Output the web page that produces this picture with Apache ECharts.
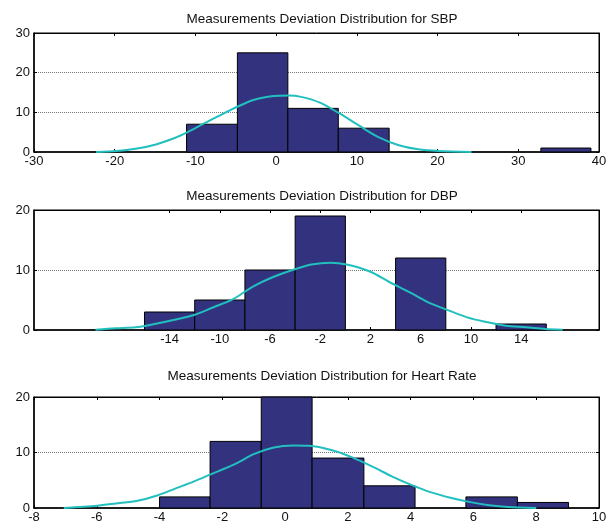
<!DOCTYPE html>
<html>
<head>
<meta charset="utf-8">
<script src="https://cdn.jsdelivr.net/npm/echarts@6/dist/echarts.min.js"></script>
<style>
  html, body { margin: 0; padding: 0; background: #fff; }
  #chart { width: 613px; height: 526px; }
</style>
</head>
<body>
<div id="chart"></div>
<script>
// SBP histogram: bin edges and counts, plus fitted curve points
var sbpEdges = [-11.1, -4.8, 1.45, 7.7, 14.0, 20.2, 26.5, 32.8, 39.0];
var sbpCounts = [7, 25, 11, 6, 0, 0, 0, 1];
var sbpFitX = [-22.3, -19.8, -17.4, -14.9, -12.5, -11.1, -9.1, -7.1, -4.8, -2.8, -0.3, 1.5, 3.1, 5.5, 7.7, 10.4, 12.8, 15.2, 17.6, 20.1, 24.2];
var sbpFitY = [0, 0.25, 0.8, 1.9, 3.6, 4.9, 7.0, 9.1, 11.4, 13.1, 14.1, 14.25, 13.9, 12.4, 9.9, 6.5, 3.6, 1.7, 0.67, 0.25, 0];
var sbpTicks = [-30, -20, -10, 0, 10, 20, 30, 40];

// DBP
var dbpEdges = [-16, -12, -8, -4, 0, 4, 8, 12, 16];
var dbpCounts = [3, 5, 10, 19, 0, 12, 0, 1];
var dbpFitX = [-19.9, -18.3, -16.7, -15.2, -13.6, -12.05, -10.5, -8.9, -7.4, -5.8, -3.9, -2.7, -1.2, 0.1, 2.0, 3.5, 5.1, 6.6, 8.05, 9.7, 11.3, 12.8, 14.4, 15.9, 17.3];
var dbpFitY = [0.05, 0.3, 0.45, 1.0, 1.7, 2.5, 3.8, 5.2, 7.2, 8.8, 10.2, 10.9, 11.2, 10.9, 9.7, 8.0, 6.3, 4.6, 3.4, 2.1, 1.3, 0.7, 0.45, 0.17, 0.05];
var dbpTicks = [-14, -10, -6, -2, 2, 6, 10, 14];

// Heart rate
var hrEdges = [-4.0, -2.39, -0.76, 0.86, 2.51, 4.14, 5.76, 7.4, 9.03];
var hrCounts = [2, 12, 20, 9, 4, 0, 2, 1];
var hrFitX = [-7.05, -6.6, -6.0, -5.4, -4.7, -4.1, -3.5, -2.9, -2.4, -1.6, -1.0, -0.36, 0.26, 0.76, 1.5, 2.1, 2.8, 3.4, 4.0, 4.6, 5.3, 5.9, 6.5, 7.1, 8.0];
var hrFitY = [0, 0.17, 0.4, 0.8, 1.3, 2.2, 3.5, 4.8, 6.0, 7.9, 9.7, 10.9, 11.25, 11.2, 10.4, 9.2, 7.4, 5.7, 4.2, 2.9, 1.8, 1.06, 0.5, 0.17, 0];
var hrTicks = [-8, -6, -4, -2, 0, 2, 4, 6, 8, 10];

var titles = [
  'Measurements Deviation Distribution for SBP',
  'Measurements Deviation Distribution for DBP',
  'Measurements Deviation Distribution for Heart Rate'
];

var barColor = '#32327f';
var fitColor = '#22bfbf';
var fontFam = '"Liberation Sans", Arial, sans-serif';

var panels = [
  {edges: sbpEdges, counts: sbpCounts, fx: sbpFitX, fy: sbpFitY, ticks: sbpTicks, xmin: -30, xmax: 40, ymax: 30, top: 33, height: 119, titleTop: 7},
  {edges: dbpEdges, counts: dbpCounts, fx: dbpFitX, fy: dbpFitY, ticks: dbpTicks, xmin: -24.8, xmax: 20.2, ymax: 20, top: 210, height: 120, titleTop: 184},
  {edges: hrEdges, counts: hrCounts, fx: hrFitX, fy: hrFitY, ticks: hrTicks, xmin: -8, xmax: 10, ymax: 20, top: 397, height: 111, titleTop: 364}
];

var grid = [], xAxis = [], yAxis = [], series = [], title = [];

panels.forEach(function (p, i) {
  grid.push({left: 34, right: 14, top: p.top, height: p.height, show: true,
    borderColor: '#000', borderWidth: 1, backgroundColor: '#fff'});
  title.push({text: titles[i], left: 317, top: p.titleTop, textAlign: 'center',
    textStyle: {fontFamily: fontFam, fontSize: 13.5, fontWeight: 'normal', color: '#111'}});

  // bottom x axis with labels
  xAxis.push({type: 'value', gridIndex: i, min: p.xmin, max: p.xmax,
    axisLine: {show: true, onZero: false, lineStyle: {color: '#000', width: 1.5}},
    axisTick: {show: true, inside: true, length: 3, customValues: p.ticks, lineStyle: {color: '#000'}},
    axisLabel: {customValues: p.ticks, color: '#111', fontFamily: fontFam, fontSize: 13, margin: 3, showMinLabel: true, showMaxLabel: true},
    splitLine: {show: false}});
  // top x axis, ticks only
  xAxis.push({type: 'value', gridIndex: i, position: 'top', min: p.xmin, max: p.xmax,
    axisLine: {show: true, onZero: false, lineStyle: {color: '#000', width: 1}},
    axisTick: {show: true, inside: true, length: 3, customValues: p.ticks, lineStyle: {color: '#000'}},
    axisLabel: {show: false}, splitLine: {show: false}});

  yAxis.push({type: 'value', gridIndex: i, min: 0, max: p.ymax, interval: 10,
    axisLine: {show: true, onZero: false, lineStyle: {color: '#000', width: 1.5}},
    axisTick: {show: true, inside: true, length: 3, lineStyle: {color: '#000'}},
    axisLabel: {color: '#111', fontFamily: fontFam, fontSize: 13, margin: 4},
    splitLine: {show: true, lineStyle: {color: '#777', type: 'dotted', width: 1}}});
  yAxis.push({type: 'value', gridIndex: i, position: 'right', min: 0, max: p.ymax, interval: 10,
    axisLine: {show: true, onZero: false, lineStyle: {color: '#000', width: 1}},
    axisTick: {show: true, inside: true, length: 3, lineStyle: {color: '#000'}},
    axisLabel: {show: false}, splitLine: {show: false}});

  var bins = [];
  for (var k = 0; k < p.counts.length; k++) {
    bins.push([p.edges[k], p.edges[k + 1], p.counts[k]]);
  }
  series.push({
    type: 'custom', xAxisIndex: i * 2, yAxisIndex: i * 2, data: bins,
    encode: {x: [0, 1], y: 2}, z: 2,
    renderItem: function (params, api) {
      var h = api.value(2);
      if (!h) return null;
      var a = api.coord([api.value(0), h]);
      var b = api.coord([api.value(1), 0]);
      return {type: 'rect',
        shape: {x: a[0], y: a[1], width: b[0] - a[0], height: b[1] - a[1]},
        style: {fill: barColor, stroke: '#000', lineWidth: 1}};
    }
  });

  var pts = p.fx.map(function (x, j) { return [x, p.fy[j]]; });
  series.push({
    type: 'line', xAxisIndex: i * 2, yAxisIndex: i * 2, data: pts,
    smooth: 0.3, symbol: 'none', z: 5,
    lineStyle: {color: fitColor, width: 2}
  });
});

var chart = echarts.init(document.getElementById('chart'));
chart.setOption({
  animation: false,
  backgroundColor: '#fff',
  title: title,
  grid: grid,
  xAxis: xAxis,
  yAxis: yAxis,
  series: series
});
</script>
</body>
</html>
